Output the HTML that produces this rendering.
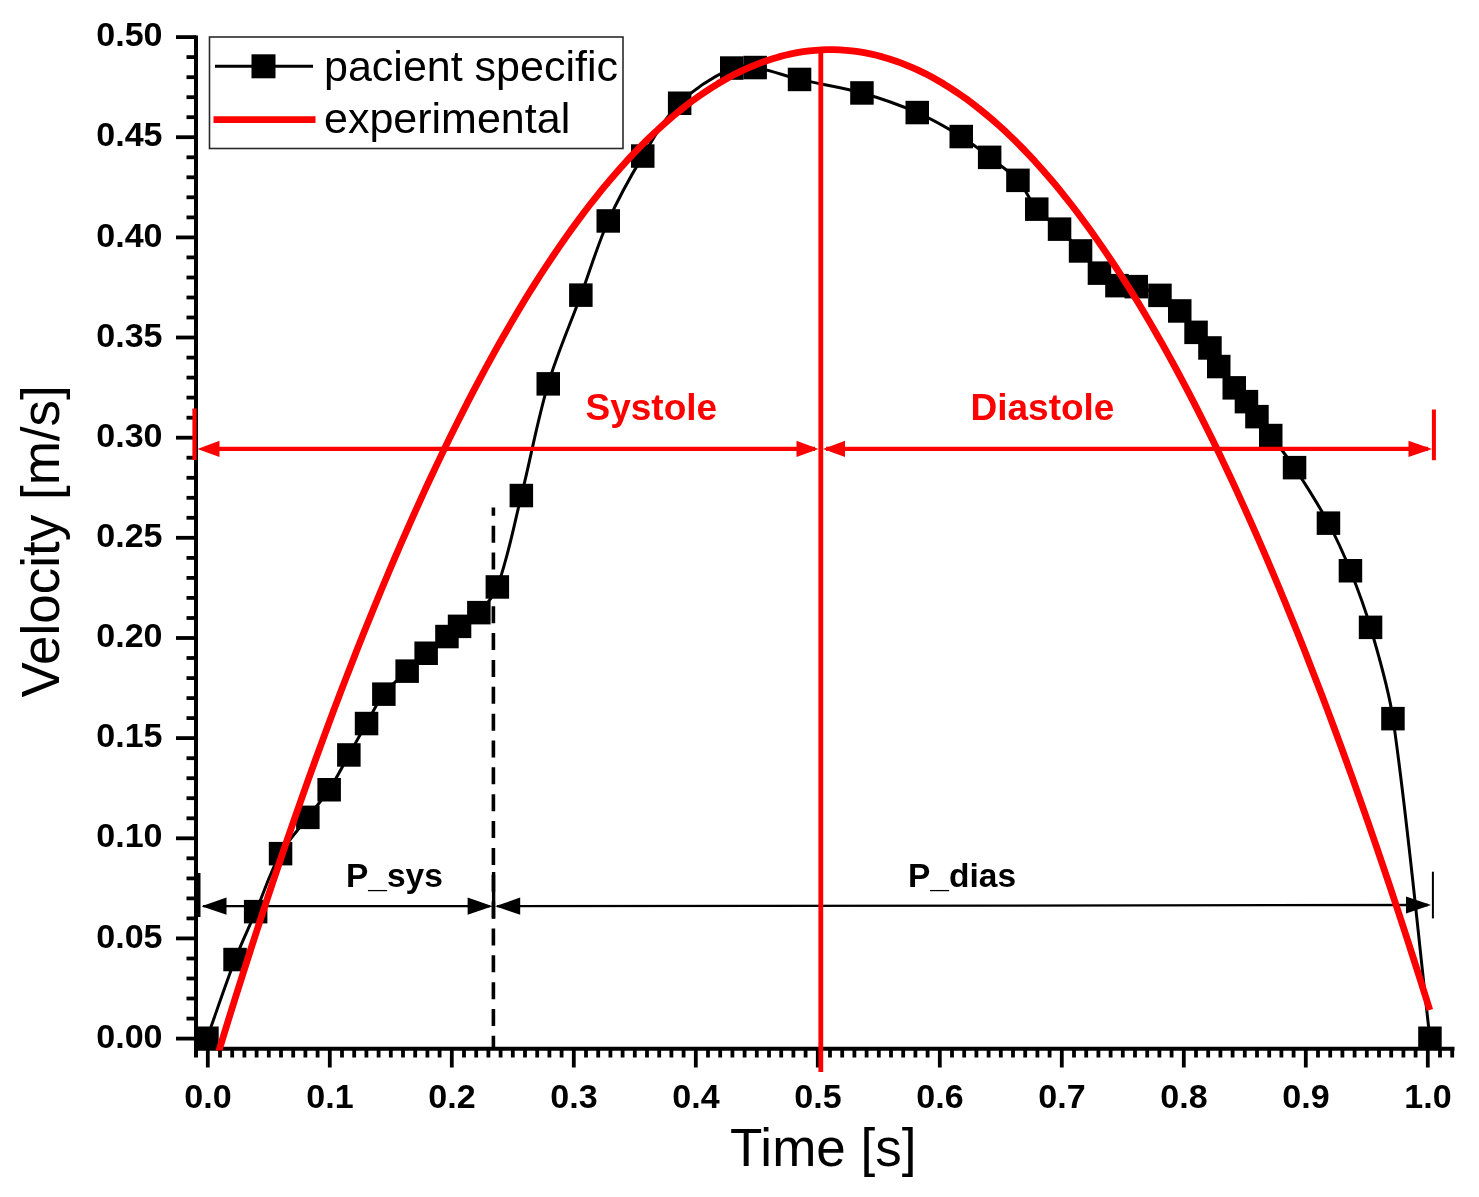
<!DOCTYPE html>
<html><head><meta charset="utf-8"><title>Velocity profile</title>
<style>
html,body{margin:0;padding:0;background:#fff;}
body{width:1479px;height:1197px;position:relative;overflow:hidden;font-family:"Liberation Sans",sans-serif;}
</style></head><body>
<svg width="1479" height="1197" viewBox="0 0 1479 1197" style="position:absolute;left:0;top:0;filter:blur(0.45px)">
<g stroke="#000" stroke-width="4" fill="none">
<line x1="196" y1="35.5" x2="196" y2="1057.5"/>
<line x1="194" y1="1048.7" x2="1454.5" y2="1048.7"/>
</g>
<g stroke="#000" stroke-width="3.8">
<line x1="176" y1="1038.6" x2="196" y2="1038.6"/>
<line x1="186.5" y1="1018.6" x2="196" y2="1018.6"/>
<line x1="186.5" y1="998.5" x2="196" y2="998.5"/>
<line x1="186.5" y1="978.5" x2="196" y2="978.5"/>
<line x1="186.5" y1="958.5" x2="196" y2="958.5"/>
<line x1="176" y1="938.4" x2="196" y2="938.4"/>
<line x1="186.5" y1="918.4" x2="196" y2="918.4"/>
<line x1="186.5" y1="898.4" x2="196" y2="898.4"/>
<line x1="186.5" y1="878.4" x2="196" y2="878.4"/>
<line x1="186.5" y1="858.3" x2="196" y2="858.3"/>
<line x1="176" y1="838.3" x2="196" y2="838.3"/>
<line x1="186.5" y1="818.3" x2="196" y2="818.3"/>
<line x1="186.5" y1="798.2" x2="196" y2="798.2"/>
<line x1="186.5" y1="778.2" x2="196" y2="778.2"/>
<line x1="186.5" y1="758.2" x2="196" y2="758.2"/>
<line x1="176" y1="738.1" x2="196" y2="738.1"/>
<line x1="186.5" y1="718.1" x2="196" y2="718.1"/>
<line x1="186.5" y1="698.1" x2="196" y2="698.1"/>
<line x1="186.5" y1="678.1" x2="196" y2="678.1"/>
<line x1="186.5" y1="658.0" x2="196" y2="658.0"/>
<line x1="176" y1="638.0" x2="196" y2="638.0"/>
<line x1="186.5" y1="618.0" x2="196" y2="618.0"/>
<line x1="186.5" y1="597.9" x2="196" y2="597.9"/>
<line x1="186.5" y1="577.9" x2="196" y2="577.9"/>
<line x1="186.5" y1="557.9" x2="196" y2="557.9"/>
<line x1="176" y1="537.8" x2="196" y2="537.8"/>
<line x1="186.5" y1="517.8" x2="196" y2="517.8"/>
<line x1="186.5" y1="497.8" x2="196" y2="497.8"/>
<line x1="186.5" y1="477.8" x2="196" y2="477.8"/>
<line x1="186.5" y1="457.7" x2="196" y2="457.7"/>
<line x1="176" y1="437.7" x2="196" y2="437.7"/>
<line x1="186.5" y1="417.7" x2="196" y2="417.7"/>
<line x1="186.5" y1="397.6" x2="196" y2="397.6"/>
<line x1="186.5" y1="377.6" x2="196" y2="377.6"/>
<line x1="186.5" y1="357.6" x2="196" y2="357.6"/>
<line x1="176" y1="337.5" x2="196" y2="337.5"/>
<line x1="186.5" y1="317.5" x2="196" y2="317.5"/>
<line x1="186.5" y1="297.5" x2="196" y2="297.5"/>
<line x1="186.5" y1="277.5" x2="196" y2="277.5"/>
<line x1="186.5" y1="257.4" x2="196" y2="257.4"/>
<line x1="176" y1="237.4" x2="196" y2="237.4"/>
<line x1="186.5" y1="217.4" x2="196" y2="217.4"/>
<line x1="186.5" y1="197.3" x2="196" y2="197.3"/>
<line x1="186.5" y1="177.3" x2="196" y2="177.3"/>
<line x1="186.5" y1="157.3" x2="196" y2="157.3"/>
<line x1="176" y1="137.2" x2="196" y2="137.2"/>
<line x1="186.5" y1="117.2" x2="196" y2="117.2"/>
<line x1="186.5" y1="97.2" x2="196" y2="97.2"/>
<line x1="186.5" y1="77.2" x2="196" y2="77.2"/>
<line x1="186.5" y1="57.1" x2="196" y2="57.1"/>
<line x1="176" y1="37.1" x2="196" y2="37.1"/>
<line x1="207.8" y1="1048.7" x2="207.8" y2="1067.5"/>
<line x1="220.0" y1="1048.7" x2="220.0" y2="1057.5"/>
<line x1="232.2" y1="1048.7" x2="232.2" y2="1057.5"/>
<line x1="244.4" y1="1048.7" x2="244.4" y2="1057.5"/>
<line x1="256.6" y1="1048.7" x2="256.6" y2="1057.5"/>
<line x1="268.8" y1="1048.7" x2="268.8" y2="1057.5"/>
<line x1="281.0" y1="1048.7" x2="281.0" y2="1057.5"/>
<line x1="293.2" y1="1048.7" x2="293.2" y2="1057.5"/>
<line x1="305.4" y1="1048.7" x2="305.4" y2="1057.5"/>
<line x1="317.6" y1="1048.7" x2="317.6" y2="1057.5"/>
<line x1="329.8" y1="1048.7" x2="329.8" y2="1067.5"/>
<line x1="342.0" y1="1048.7" x2="342.0" y2="1057.5"/>
<line x1="354.2" y1="1048.7" x2="354.2" y2="1057.5"/>
<line x1="366.4" y1="1048.7" x2="366.4" y2="1057.5"/>
<line x1="378.6" y1="1048.7" x2="378.6" y2="1057.5"/>
<line x1="390.8" y1="1048.7" x2="390.8" y2="1057.5"/>
<line x1="403.0" y1="1048.7" x2="403.0" y2="1057.5"/>
<line x1="415.2" y1="1048.7" x2="415.2" y2="1057.5"/>
<line x1="427.4" y1="1048.7" x2="427.4" y2="1057.5"/>
<line x1="439.6" y1="1048.7" x2="439.6" y2="1057.5"/>
<line x1="451.8" y1="1048.7" x2="451.8" y2="1067.5"/>
<line x1="464.0" y1="1048.7" x2="464.0" y2="1057.5"/>
<line x1="476.2" y1="1048.7" x2="476.2" y2="1057.5"/>
<line x1="488.4" y1="1048.7" x2="488.4" y2="1057.5"/>
<line x1="500.6" y1="1048.7" x2="500.6" y2="1057.5"/>
<line x1="512.8" y1="1048.7" x2="512.8" y2="1057.5"/>
<line x1="525.0" y1="1048.7" x2="525.0" y2="1057.5"/>
<line x1="537.2" y1="1048.7" x2="537.2" y2="1057.5"/>
<line x1="549.4" y1="1048.7" x2="549.4" y2="1057.5"/>
<line x1="561.6" y1="1048.7" x2="561.6" y2="1057.5"/>
<line x1="573.8" y1="1048.7" x2="573.8" y2="1067.5"/>
<line x1="586.0" y1="1048.7" x2="586.0" y2="1057.5"/>
<line x1="598.2" y1="1048.7" x2="598.2" y2="1057.5"/>
<line x1="610.4" y1="1048.7" x2="610.4" y2="1057.5"/>
<line x1="622.6" y1="1048.7" x2="622.6" y2="1057.5"/>
<line x1="634.8" y1="1048.7" x2="634.8" y2="1057.5"/>
<line x1="647.0" y1="1048.7" x2="647.0" y2="1057.5"/>
<line x1="659.2" y1="1048.7" x2="659.2" y2="1057.5"/>
<line x1="671.4" y1="1048.7" x2="671.4" y2="1057.5"/>
<line x1="683.6" y1="1048.7" x2="683.6" y2="1057.5"/>
<line x1="695.8" y1="1048.7" x2="695.8" y2="1067.5"/>
<line x1="708.0" y1="1048.7" x2="708.0" y2="1057.5"/>
<line x1="720.2" y1="1048.7" x2="720.2" y2="1057.5"/>
<line x1="732.4" y1="1048.7" x2="732.4" y2="1057.5"/>
<line x1="744.6" y1="1048.7" x2="744.6" y2="1057.5"/>
<line x1="756.8" y1="1048.7" x2="756.8" y2="1057.5"/>
<line x1="769.0" y1="1048.7" x2="769.0" y2="1057.5"/>
<line x1="781.2" y1="1048.7" x2="781.2" y2="1057.5"/>
<line x1="793.4" y1="1048.7" x2="793.4" y2="1057.5"/>
<line x1="805.6" y1="1048.7" x2="805.6" y2="1057.5"/>
<line x1="817.8" y1="1048.7" x2="817.8" y2="1067.5"/>
<line x1="830.0" y1="1048.7" x2="830.0" y2="1057.5"/>
<line x1="842.2" y1="1048.7" x2="842.2" y2="1057.5"/>
<line x1="854.4" y1="1048.7" x2="854.4" y2="1057.5"/>
<line x1="866.6" y1="1048.7" x2="866.6" y2="1057.5"/>
<line x1="878.8" y1="1048.7" x2="878.8" y2="1057.5"/>
<line x1="891.0" y1="1048.7" x2="891.0" y2="1057.5"/>
<line x1="903.2" y1="1048.7" x2="903.2" y2="1057.5"/>
<line x1="915.4" y1="1048.7" x2="915.4" y2="1057.5"/>
<line x1="927.6" y1="1048.7" x2="927.6" y2="1057.5"/>
<line x1="939.8" y1="1048.7" x2="939.8" y2="1067.5"/>
<line x1="952.0" y1="1048.7" x2="952.0" y2="1057.5"/>
<line x1="964.2" y1="1048.7" x2="964.2" y2="1057.5"/>
<line x1="976.4" y1="1048.7" x2="976.4" y2="1057.5"/>
<line x1="988.6" y1="1048.7" x2="988.6" y2="1057.5"/>
<line x1="1000.8" y1="1048.7" x2="1000.8" y2="1057.5"/>
<line x1="1013.0" y1="1048.7" x2="1013.0" y2="1057.5"/>
<line x1="1025.2" y1="1048.7" x2="1025.2" y2="1057.5"/>
<line x1="1037.4" y1="1048.7" x2="1037.4" y2="1057.5"/>
<line x1="1049.6" y1="1048.7" x2="1049.6" y2="1057.5"/>
<line x1="1061.8" y1="1048.7" x2="1061.8" y2="1067.5"/>
<line x1="1074.0" y1="1048.7" x2="1074.0" y2="1057.5"/>
<line x1="1086.2" y1="1048.7" x2="1086.2" y2="1057.5"/>
<line x1="1098.4" y1="1048.7" x2="1098.4" y2="1057.5"/>
<line x1="1110.6" y1="1048.7" x2="1110.6" y2="1057.5"/>
<line x1="1122.8" y1="1048.7" x2="1122.8" y2="1057.5"/>
<line x1="1135.0" y1="1048.7" x2="1135.0" y2="1057.5"/>
<line x1="1147.2" y1="1048.7" x2="1147.2" y2="1057.5"/>
<line x1="1159.4" y1="1048.7" x2="1159.4" y2="1057.5"/>
<line x1="1171.6" y1="1048.7" x2="1171.6" y2="1057.5"/>
<line x1="1183.8" y1="1048.7" x2="1183.8" y2="1067.5"/>
<line x1="1196.0" y1="1048.7" x2="1196.0" y2="1057.5"/>
<line x1="1208.2" y1="1048.7" x2="1208.2" y2="1057.5"/>
<line x1="1220.4" y1="1048.7" x2="1220.4" y2="1057.5"/>
<line x1="1232.6" y1="1048.7" x2="1232.6" y2="1057.5"/>
<line x1="1244.8" y1="1048.7" x2="1244.8" y2="1057.5"/>
<line x1="1257.0" y1="1048.7" x2="1257.0" y2="1057.5"/>
<line x1="1269.2" y1="1048.7" x2="1269.2" y2="1057.5"/>
<line x1="1281.4" y1="1048.7" x2="1281.4" y2="1057.5"/>
<line x1="1293.6" y1="1048.7" x2="1293.6" y2="1057.5"/>
<line x1="1305.8" y1="1048.7" x2="1305.8" y2="1067.5"/>
<line x1="1318.0" y1="1048.7" x2="1318.0" y2="1057.5"/>
<line x1="1330.2" y1="1048.7" x2="1330.2" y2="1057.5"/>
<line x1="1342.4" y1="1048.7" x2="1342.4" y2="1057.5"/>
<line x1="1354.6" y1="1048.7" x2="1354.6" y2="1057.5"/>
<line x1="1366.8" y1="1048.7" x2="1366.8" y2="1057.5"/>
<line x1="1379.0" y1="1048.7" x2="1379.0" y2="1057.5"/>
<line x1="1391.2" y1="1048.7" x2="1391.2" y2="1057.5"/>
<line x1="1403.4" y1="1048.7" x2="1403.4" y2="1057.5"/>
<line x1="1415.6" y1="1048.7" x2="1415.6" y2="1057.5"/>
<line x1="1427.8" y1="1048.7" x2="1427.8" y2="1067.5"/>
<line x1="1440.0" y1="1048.7" x2="1440.0" y2="1057.5"/>
<line x1="1452.2" y1="1048.7" x2="1452.2" y2="1057.5"/>
</g>
<line x1="493.4" y1="507.5" x2="493.4" y2="1049" stroke="#000" stroke-width="3.6" stroke-dasharray="17 9.85" stroke-dashoffset="8.65"/>
<path d="M207.0 1038.2 C216.4 1012.0 225.1 985.5 235.1 959.5 C241.3 943.3 248.9 927.6 255.7 911.6 C264.0 892.3 270.3 872.0 280.5 853.6 C287.8 840.4 298.7 829.4 307.8 817.4 C314.9 808.1 322.7 799.4 329.1 789.7 C336.4 778.6 342.3 766.6 348.9 755.0 C354.8 744.5 360.5 733.9 366.5 723.5 C372.2 713.6 376.8 703.1 383.8 694.1 C390.5 685.5 399.2 678.7 407.1 671.1 C413.4 665.1 419.6 659.0 426.2 653.3 C432.9 647.5 440.1 642.1 447.0 636.5 C451.2 633.1 455.2 629.6 459.5 626.4 C465.8 621.6 473.3 618.3 478.8 612.6 C486.1 605.0 493.7 596.9 497.3 587.0 C508.1 557.4 513.7 526.1 521.4 495.5 C530.7 458.4 537.3 420.6 548.2 383.9 C557.2 353.7 570.0 324.8 580.9 295.2 C590.0 270.5 597.5 245.1 608.2 221.0 C618.2 198.6 630.1 177.1 642.8 156.1 C653.9 137.7 664.3 118.3 679.6 103.2 C694.5 88.5 712.8 77.0 731.8 68.1 C738.8 64.8 747.4 66.3 755.1 67.6 C770.2 70.1 784.6 75.9 799.5 79.4 C820.2 84.3 841.5 87.2 862.0 93.0 C880.8 98.3 899.3 104.8 917.2 112.6 C932.5 119.3 947.1 127.7 961.3 136.5 C971.3 142.7 980.3 150.1 989.6 157.3 C999.2 164.7 1009.8 171.3 1018.0 180.3 C1025.7 188.8 1029.4 200.4 1036.8 209.2 C1043.4 216.9 1052.3 222.2 1059.6 229.2 C1066.9 236.2 1073.8 243.5 1080.6 251.0 C1087.1 258.2 1092.4 266.4 1099.4 273.1 C1104.6 278.1 1110.2 283.1 1117.0 285.6 C1123.0 287.8 1129.9 285.2 1136.2 286.6 C1144.4 288.5 1152.6 291.2 1160.0 295.3 C1167.3 299.4 1173.8 305.0 1179.7 311.0 C1186.0 317.4 1190.4 325.4 1196.1 332.4 C1200.5 337.8 1206.1 342.2 1210.0 348.0 C1213.8 353.7 1215.2 360.7 1218.8 366.5 C1223.4 374.0 1228.9 381.0 1234.3 387.9 C1238.1 392.7 1242.6 396.8 1246.4 401.6 C1250.2 406.4 1253.3 411.7 1256.9 416.7 C1261.4 423.0 1266.1 429.2 1270.7 435.5 C1278.6 446.2 1287.2 456.5 1294.5 467.6 C1306.4 485.7 1318.1 504.0 1328.4 523.1 C1336.7 538.5 1343.9 554.5 1350.4 570.7 C1357.9 589.3 1364.9 608.1 1370.5 627.4 C1379.2 657.5 1388.5 687.6 1393.0 718.6 C1408.3 824.7 1417.6 931.7 1429.9 1038.2" stroke="#000" stroke-width="3" fill="none"/>
<g fill="#000">
<rect x="195.2" y="1026.5" width="23.5" height="23.5"/>
<rect x="223.3" y="947.8" width="23.5" height="23.5"/>
<rect x="243.9" y="899.9" width="23.5" height="23.5"/>
<rect x="268.8" y="841.9" width="23.5" height="23.5"/>
<rect x="296.1" y="805.6" width="23.5" height="23.5"/>
<rect x="317.4" y="778.0" width="23.5" height="23.5"/>
<rect x="337.1" y="743.2" width="23.5" height="23.5"/>
<rect x="354.8" y="711.8" width="23.5" height="23.5"/>
<rect x="372.1" y="682.4" width="23.5" height="23.5"/>
<rect x="395.4" y="659.4" width="23.5" height="23.5"/>
<rect x="414.4" y="641.5" width="23.5" height="23.5"/>
<rect x="435.2" y="624.8" width="23.5" height="23.5"/>
<rect x="447.8" y="614.6" width="23.5" height="23.5"/>
<rect x="467.1" y="600.9" width="23.5" height="23.5"/>
<rect x="485.6" y="575.2" width="23.5" height="23.5"/>
<rect x="509.6" y="483.8" width="23.5" height="23.5"/>
<rect x="536.5" y="372.1" width="23.5" height="23.5"/>
<rect x="569.1" y="283.4" width="23.5" height="23.5"/>
<rect x="596.5" y="209.2" width="23.5" height="23.5"/>
<rect x="631.0" y="144.3" width="23.5" height="23.5"/>
<rect x="667.9" y="91.5" width="23.5" height="23.5"/>
<rect x="720.0" y="56.3" width="23.5" height="23.5"/>
<rect x="743.4" y="55.8" width="23.5" height="23.5"/>
<rect x="787.8" y="67.7" width="23.5" height="23.5"/>
<rect x="850.2" y="81.2" width="23.5" height="23.5"/>
<rect x="905.5" y="100.8" width="23.5" height="23.5"/>
<rect x="949.5" y="124.8" width="23.5" height="23.5"/>
<rect x="977.9" y="145.6" width="23.5" height="23.5"/>
<rect x="1006.2" y="168.6" width="23.5" height="23.5"/>
<rect x="1025.0" y="197.4" width="23.5" height="23.5"/>
<rect x="1047.8" y="217.4" width="23.5" height="23.5"/>
<rect x="1068.8" y="239.2" width="23.5" height="23.5"/>
<rect x="1087.7" y="261.4" width="23.5" height="23.5"/>
<rect x="1105.2" y="273.9" width="23.5" height="23.5"/>
<rect x="1124.5" y="274.9" width="23.5" height="23.5"/>
<rect x="1148.2" y="283.6" width="23.5" height="23.5"/>
<rect x="1168.0" y="299.2" width="23.5" height="23.5"/>
<rect x="1184.3" y="320.6" width="23.5" height="23.5"/>
<rect x="1198.2" y="336.2" width="23.5" height="23.5"/>
<rect x="1207.0" y="354.8" width="23.5" height="23.5"/>
<rect x="1222.5" y="376.1" width="23.5" height="23.5"/>
<rect x="1234.7" y="389.9" width="23.5" height="23.5"/>
<rect x="1245.2" y="404.9" width="23.5" height="23.5"/>
<rect x="1259.0" y="423.8" width="23.5" height="23.5"/>
<rect x="1282.8" y="455.9" width="23.5" height="23.5"/>
<rect x="1316.7" y="511.4" width="23.5" height="23.5"/>
<rect x="1338.7" y="559.0" width="23.5" height="23.5"/>
<rect x="1358.8" y="615.6" width="23.5" height="23.5"/>
<rect x="1381.2" y="706.9" width="23.5" height="23.5"/>
<rect x="1418.2" y="1026.5" width="23.5" height="23.5"/>
</g>
<g stroke="#000" fill="#000">
<line x1="199" y1="873" x2="199" y2="917" stroke-width="3"/>
<line x1="203" y1="906.2" x2="490" y2="906.2" stroke-width="2.3"/>
<line x1="497" y1="906.2" x2="1428" y2="905" stroke-width="2.3"/>
<line x1="493.6" y1="872" x2="493.6" y2="918.7" stroke-width="3.4"/>
<line x1="1432.9" y1="871.7" x2="1432.9" y2="918.4" stroke-width="2"/>
<polygon points="201.5,906.2 226.5,897.6 226.5,914.8" stroke="none"/>
<polygon points="492.6,906.2 467.6,897.6 467.6,914.8" stroke="none"/>
<polygon points="495.2,906.2 520.2,897.6 520.2,914.8" stroke="none"/>
<polygon points="1431.0,905.0 1406.0,896.4 1406.0,913.6" stroke="none"/>
</g>
<clipPath id="rc"><rect x="0" y="0" width="1479" height="1050.6"/></clipPath>
<path d="M217.6 1055.2 L223.7 1035.3 L229.8 1015.6 L235.9 996.1 L242.0 976.7 L248.1 957.6 L254.2 938.7 L260.3 920.0 L266.4 901.5 L272.5 883.2 L278.6 865.1 L284.7 847.1 L290.8 829.4 L296.9 811.9 L303.0 794.6 L309.1 777.4 L315.2 760.5 L321.3 743.8 L327.4 727.3 L333.5 710.9 L339.6 694.8 L345.7 678.9 L351.8 663.2 L357.9 647.6 L364.0 632.3 L370.1 617.2 L376.2 602.2 L382.3 587.5 L388.4 573.0 L394.5 558.6 L400.6 544.5 L406.7 530.6 L412.8 516.8 L418.9 503.3 L425.0 489.9 L431.1 476.8 L437.2 463.9 L443.3 451.1 L449.4 438.6 L455.5 426.2 L461.6 414.1 L467.7 402.1 L473.8 390.4 L479.9 378.9 L486.0 367.5 L492.1 356.4 L498.2 345.4 L504.3 334.7 L510.4 324.1 L516.5 313.7 L522.6 303.6 L528.7 293.6 L534.8 283.9 L540.9 274.3 L547.0 265.0 L553.1 255.8 L559.2 246.9 L565.3 238.1 L571.4 229.5 L577.5 221.2 L583.6 213.0 L589.7 205.0 L595.8 197.3 L601.9 189.7 L608.0 182.3 L614.1 175.2 L620.2 168.2 L626.3 161.4 L632.4 154.9 L638.5 148.5 L644.6 142.3 L650.7 136.4 L656.8 130.6 L662.9 125.0 L669.0 119.6 L675.1 114.5 L681.2 109.5 L687.3 104.7 L693.4 100.1 L699.5 95.7 L705.6 91.6 L711.7 87.6 L717.8 83.8 L723.9 80.2 L730.0 76.8 L736.1 73.6 L742.2 70.6 L748.3 67.9 L754.4 65.3 L760.5 62.9 L766.6 60.7 L772.7 58.7 L778.8 56.9 L784.9 55.3 L791.0 53.9 L797.1 52.7 L803.2 51.7 L809.3 50.9 L815.4 50.3 L821.5 49.9 L827.6 49.7 L833.7 49.7 L839.8 49.9 L845.9 50.3 L852.0 50.9 L858.1 51.7 L864.2 52.7 L870.3 53.9 L876.4 55.3 L882.5 56.9 L888.6 58.7 L894.7 60.7 L900.8 62.9 L906.9 65.3 L913.0 67.9 L919.1 70.6 L925.2 73.6 L931.3 76.8 L937.4 80.2 L943.5 83.8 L949.6 87.6 L955.7 91.6 L961.8 95.7 L967.9 100.1 L974.0 104.7 L980.1 109.5 L986.2 114.5 L992.3 119.6 L998.4 125.0 L1004.5 130.6 L1010.6 136.4 L1016.7 142.3 L1022.8 148.5 L1028.9 154.9 L1035.0 161.4 L1041.1 168.2 L1047.2 175.2 L1053.3 182.3 L1059.4 189.7 L1065.5 197.3 L1071.6 205.0 L1077.7 213.0 L1083.8 221.2 L1089.9 229.5 L1096.0 238.1 L1102.1 246.9 L1108.2 255.8 L1114.3 265.0 L1120.4 274.3 L1126.5 283.9 L1132.6 293.6 L1138.7 303.6 L1144.8 313.7 L1150.9 324.1 L1157.0 334.7 L1163.1 345.4 L1169.2 356.4 L1175.3 367.5 L1181.4 378.9 L1187.5 390.4 L1193.6 402.1 L1199.7 414.1 L1205.8 426.2 L1211.9 438.6 L1218.0 451.1 L1224.1 463.9 L1230.2 476.8 L1236.3 489.9 L1242.4 503.3 L1248.5 516.8 L1254.6 530.6 L1260.7 544.5 L1266.8 558.6 L1272.9 573.0 L1279.0 587.5 L1285.1 602.2 L1291.2 617.2 L1297.3 632.3 L1303.4 647.6 L1309.5 663.2 L1315.6 678.9 L1321.7 694.8 L1327.8 710.9 L1333.9 727.3 L1340.0 743.8 L1346.1 760.5 L1352.2 777.4 L1358.3 794.6 L1364.4 811.9 L1370.5 829.4 L1376.6 847.1 L1382.7 865.1 L1388.8 883.2 L1394.9 901.5 L1401.0 920.0 L1407.1 938.7 L1413.2 957.6 L1419.3 976.7 L1425.4 996.1 L1429.8 1010.1" stroke="#fe0000" stroke-width="6.8" fill="none" stroke-linejoin="round" clip-path="url(#rc)"/>
<line x1="820.8" y1="49" x2="820.8" y2="1072" stroke="#fe0000" stroke-width="4.8"/>
<g stroke="#fe0000" fill="#fe0000">
<line x1="205" y1="448.9" x2="815" y2="448.9" stroke-width="4.3"/>
<line x1="826" y1="448.9" x2="1428" y2="448.9" stroke-width="4.3"/>
<line x1="194.5" y1="408.5" x2="194.5" y2="460" stroke-width="4.2"/>
<line x1="1433.9" y1="409.5" x2="1433.9" y2="460.2" stroke-width="4"/>
<polygon points="197.5,448.9 219.5,440.7 219.5,457.1" stroke="none"/>
<polygon points="818.5,448.9 796.5,440.7 796.5,457.1" stroke="none"/>
<polygon points="823.0,448.9 845.0,440.7 845.0,457.1" stroke="none"/>
<polygon points="1432.0,448.9 1408.5,440.7 1408.5,457.1" stroke="none"/>
</g>
<rect x="209.5" y="37" width="413.5" height="111.5" fill="#fff" stroke="#2a2a2a" stroke-width="1.6"/>
<line x1="215" y1="66.3" x2="313" y2="66.3" stroke="#000" stroke-width="3"/>
<rect x="251.5" y="54.3" width="24" height="24" fill="#000"/>
<line x1="213.5" y1="119.6" x2="315.5" y2="119.6" stroke="#fe0000" stroke-width="6.8"/>
<g font-family="Liberation Sans, sans-serif" fill="#000">
<text x="324" y="80.8" font-size="43">pacient specific</text>
<text x="324" y="133.1" font-size="43">experimental</text>
<text x="162.5" y="1047.7" font-size="34" font-weight="bold" text-anchor="end">0.00</text>
<text x="162.5" y="947.5" font-size="34" font-weight="bold" text-anchor="end">0.05</text>
<text x="162.5" y="847.4" font-size="34" font-weight="bold" text-anchor="end">0.10</text>
<text x="162.5" y="747.2" font-size="34" font-weight="bold" text-anchor="end">0.15</text>
<text x="162.5" y="647.1" font-size="34" font-weight="bold" text-anchor="end">0.20</text>
<text x="162.5" y="546.9" font-size="34" font-weight="bold" text-anchor="end">0.25</text>
<text x="162.5" y="446.8" font-size="34" font-weight="bold" text-anchor="end">0.30</text>
<text x="162.5" y="346.6" font-size="34" font-weight="bold" text-anchor="end">0.35</text>
<text x="162.5" y="246.5" font-size="34" font-weight="bold" text-anchor="end">0.40</text>
<text x="162.5" y="146.3" font-size="34" font-weight="bold" text-anchor="end">0.45</text>
<text x="162.5" y="46.2" font-size="34" font-weight="bold" text-anchor="end">0.50</text>
<text x="208.0" y="1107.5" font-size="34" font-weight="bold" text-anchor="middle">0.0</text>
<text x="330.0" y="1107.5" font-size="34" font-weight="bold" text-anchor="middle">0.1</text>
<text x="452.0" y="1107.5" font-size="34" font-weight="bold" text-anchor="middle">0.2</text>
<text x="574.0" y="1107.5" font-size="34" font-weight="bold" text-anchor="middle">0.3</text>
<text x="696.0" y="1107.5" font-size="34" font-weight="bold" text-anchor="middle">0.4</text>
<text x="818.0" y="1107.5" font-size="34" font-weight="bold" text-anchor="middle">0.5</text>
<text x="940.0" y="1107.5" font-size="34" font-weight="bold" text-anchor="middle">0.6</text>
<text x="1062.0" y="1107.5" font-size="34" font-weight="bold" text-anchor="middle">0.7</text>
<text x="1184.0" y="1107.5" font-size="34" font-weight="bold" text-anchor="middle">0.8</text>
<text x="1306.0" y="1107.5" font-size="34" font-weight="bold" text-anchor="middle">0.9</text>
<text x="1428.0" y="1107.5" font-size="34" font-weight="bold" text-anchor="middle">1.0</text>
<text x="823.2" y="1165.5" font-size="53" text-anchor="middle">Time [s]</text>
<text transform="translate(58.5,541.3) rotate(-90)" font-size="53" text-anchor="middle">Velocity [m/s]</text>
<text x="346" y="886.8" font-size="33.5" font-weight="bold">P_sys</text>
<text x="908" y="886.8" font-size="33.5" font-weight="bold">P_dias</text>
</g>
<g font-family="Liberation Sans, sans-serif" fill="#fe0000" font-weight="bold" font-size="37">
<text x="585.5" y="419.5">Systole</text>
<text x="970.5" y="419.5">Diastole</text>
</g>
</svg>
</body></html>
